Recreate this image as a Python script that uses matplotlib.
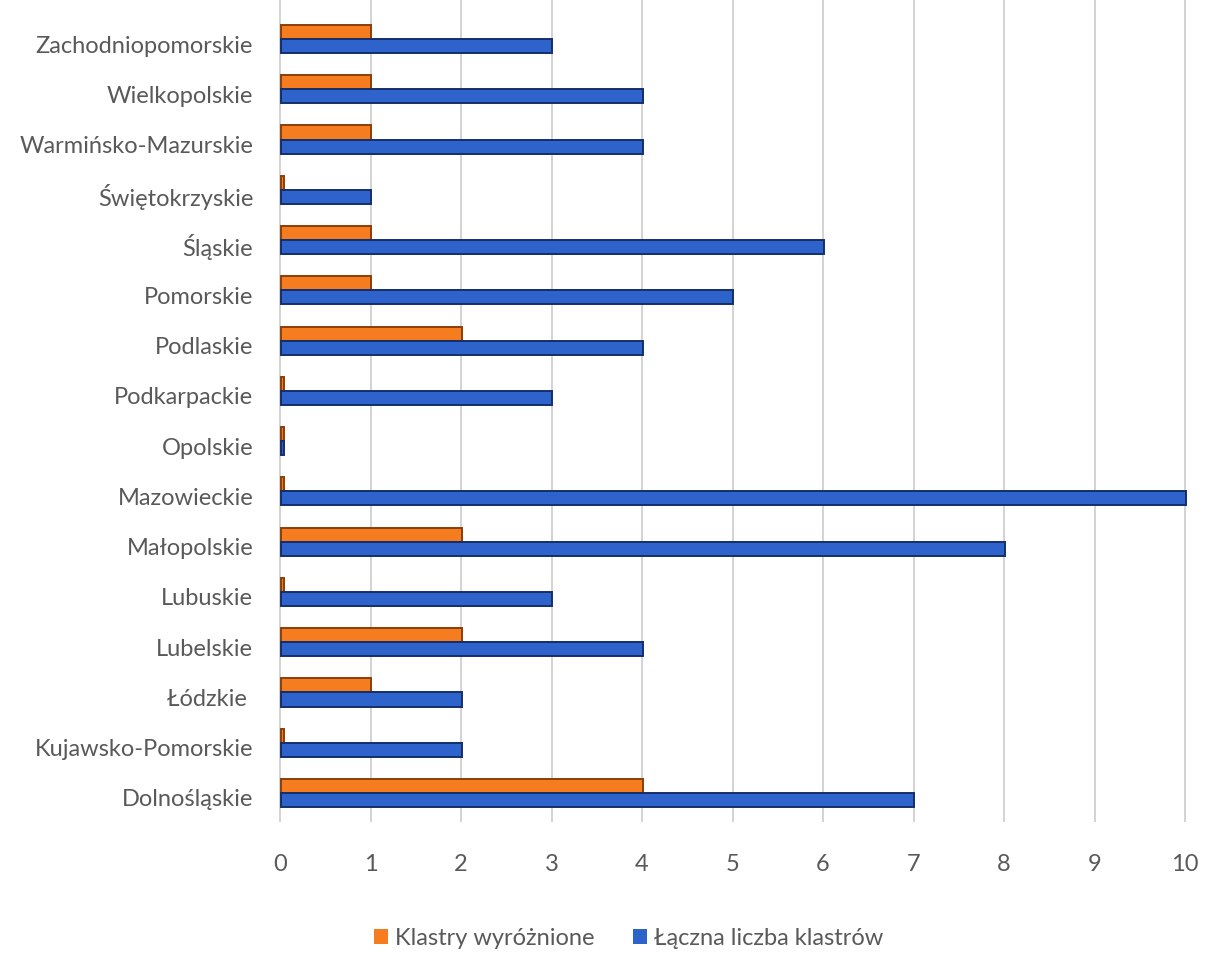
import matplotlib
matplotlib.use("Agg")
import matplotlib.pyplot as plt
import matplotlib.transforms as mtransforms
import numpy as np

regions = ["Dolnośląskie", "Kujawsko-Pomorskie", "Łódzkie ", "Lubelskie", "Lubuskie",
           "Małopolskie", "Mazowieckie", "Opolskie", "Podkarpackie", "Podlaskie",
           "Pomorskie", "Śląskie", "Świętokrzyskie", "Warmińsko-Mazurskie",
           "Wielkopolskie", "Zachodniopomorskie"]
wyroznione = [4, 0, 1, 2, 0, 2, 0, 0, 0, 2, 1, 1, 0, 1, 1, 1]
laczna = [7, 2, 2, 4, 3, 8, 10, 0, 3, 4, 5, 6, 1, 4, 4, 3]
series_names = ["Klastry wyróżnione", "Łączna liczba klastrów"]
xticks = list(range(0, 11))

plt.rcParams['font.family'] = ['Lato', 'DejaVu Sans']
txt = '#595959'
fs = 17

fig = plt.figure(figsize=(12.09, 9.55), dpi=100)
ax = fig.add_axes([0.2301, 0.1393, 0.7538, 0.8607])

y = np.arange(len(regions))
h = 0.28
minw = 0.03
ow = [max(v, minw) for v in wyroznione]
bw = [max(v, minw) for v in laczna]
ax.barh(y + h / 2, ow, height=h, left=0.01, color='#F57C1F', edgecolor='#8A3E08',
        linewidth=1.4, zorder=3, label=series_names[0])
ax.barh(y - h / 2, bw, height=h, left=0.01, color='#2F63CC', edgecolor='#152E6B',
        linewidth=1.4, zorder=3, label=series_names[1])

ax.set_xlim(-0.02, 10.05)
ax.set_ylim(-0.577, 15.776)
ax.set_yticks(y)
ax.set_yticklabels(regions, fontsize=fs, color=txt)
ax.set_xticks(xticks)
ax.set_xticklabels([str(t) for t in xticks], fontsize=fs, color=txt)
ax.tick_params(axis='both', length=0)
ax.tick_params(axis='x', pad=23)
ax.tick_params(axis='y', pad=18)
shift = mtransforms.ScaledTranslation(0, -5 / 100, fig.dpi_scale_trans)
for lbl in ax.get_yticklabels():
    lbl.set_transform(lbl.get_transform() + shift)
for s in ax.spines.values():
    s.set_visible(False)
ax.grid(axis='x', color='#D0D0D0', linewidth=1.3, zorder=0)
ax.set_axisbelow(True)

leg = fig.legend(loc='center', bbox_to_anchor=(0.52, 1 - 938 / 955), ncol=2, frameon=False,
                 fontsize=fs, handlelength=0.6, handleheight=0.6, handletextpad=0.3,
                 columnspacing=1.6)
for t in leg.get_texts():
    t.set_color(txt)
for p in leg.get_patches():
    p.set_linewidth(0)

fig.savefig("out.png", dpi=100)
